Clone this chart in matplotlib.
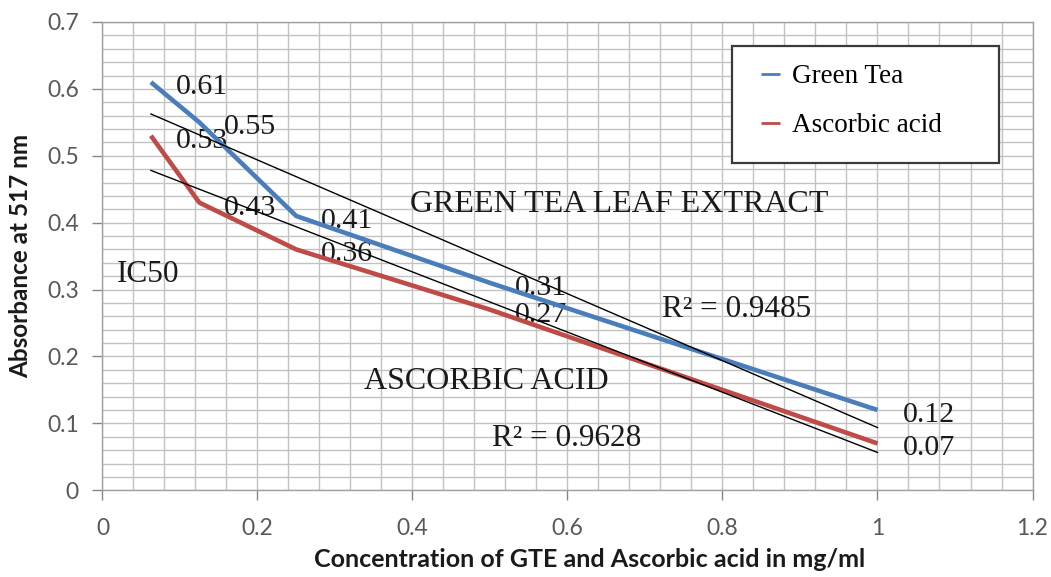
import matplotlib

matplotlib.use("Agg")
import matplotlib.pyplot as plt
import numpy as np
from matplotlib.patches import Rectangle
from matplotlib.ticker import MultipleLocator

# concentrations (mg/ml) and absorbance at 517 nm
conc = [0.0625, 0.125, 0.25, 0.5, 1.0]
green_tea = [0.61, 0.55, 0.41, 0.31, 0.12]
ascorbic = [0.53, 0.43, 0.36, 0.27, 0.07]
series_names = ["Green Tea", "Ascorbic acid"]
r2_green = "R² = 0.9485"
r2_ascorbic = "R² = 0.9628"

C_GT, C_AA = "#4a7ebb", "#be4b48"
SERIF = "Liberation Serif"
SANS = "Lato"
GRID = "#c2c2c2"
TICK = "#595959"

fig = plt.figure(figsize=(10.51, 5.77), dpi=100)
ax = fig.add_axes([0.0975, 0.1503, 0.8849, 0.8116])

ax.set_xlim(0, 1.2)
ax.set_ylim(0, 0.7)
ax.xaxis.set_major_locator(MultipleLocator(0.2))
ax.xaxis.set_minor_locator(MultipleLocator(0.04))
ax.yaxis.set_major_locator(MultipleLocator(0.1))
ax.yaxis.set_minor_locator(MultipleLocator(0.02))
ax.grid(which="both", color=GRID, lw=1.0, zorder=0)
ax.set_axisbelow(True)
ax.set_xticks(ax.get_xticks(), [f"{v:g}" for v in ax.get_xticks()])
ax.set_yticks(ax.get_yticks(), [f"{v:g}" for v in ax.get_yticks()])
ax.set_xlim(0, 1.2)
ax.set_ylim(0, 0.7)
ax.tick_params(which="major", length=7, width=1, color="#868686", labelcolor=TICK,
               labelsize=16.5, pad=10)
ax.tick_params(axis="x", pad=13)
ax.tick_params(which="minor", length=0)
for lab in ax.get_xticklabels() + ax.get_yticklabels():
    lab.set_family(SANS)
for s in ax.spines.values():
    s.set_color("#a0a0a0")
    s.set_linewidth(1.0)

ax.plot(conc, green_tea, color=C_GT, lw=3.3, label=series_names[0], zorder=3,
        solid_capstyle="butt")
ax.plot(conc, ascorbic, color=C_AA, lw=3.3, label=series_names[1], zorder=3,
        solid_capstyle="butt")

# linear trendlines over the data range
xs = np.array([conc[0], conc[-1]])
for y in (green_tea, ascorbic):
    k, b = np.polyfit(conc, y, 1)
    ax.plot(xs, k * xs + b, color="black", lw=1.0, zorder=4)

# data labels, to the right of each point
for y in (green_tea, ascorbic):
    for xv, yv in zip(conc, y):
        ax.annotate(f"{yv:.2f}", (xv, yv), xytext=(25, -2), textcoords="offset pixels",
                    ha="left", va="center_baseline", fontsize=21.5, family=SERIF,
                    color="#1a1a1a", zorder=2)

txt = dict(family=SERIF, color="#1a1a1a", ha="left", va="center_baseline", zorder=2)
ax.text(0.018, 0.328, "IC50", fontsize=22.5, **txt)
ax.text(0.397, 0.432, "GREEN TEA LEAF EXTRACT", fontsize=23, **txt)
ax.text(0.337, 0.168, "ASCORBIC ACID", fontsize=23, **txt)
ax.text(0.7225, 0.276, r2_green, fontsize=22.5, **txt)
ax.text(0.5025, 0.083, r2_ascorbic, fontsize=22.5, **txt)

ax.set_ylabel("Absorbance at 517 nm", family=SANS, fontweight="bold", fontsize=17.5,
              color="#1a1a1a")
ax.yaxis.set_label_coords(-0.076, 0.5)
ax.set_xlabel("Concentration of GTE and Ascorbic acid in mg/ml", family=SANS,
              fontweight="bold", fontsize=18, color="#1a1a1a")
ax.xaxis.set_label_coords(0.524, -0.123)

# legend box
ax.add_patch(Rectangle((0.677, 0.698), 0.287, 0.2508, transform=ax.transAxes,
                       facecolor="white", edgecolor="#3a3a3a", lw=1.6, zorder=5))
leg = ax.legend(loc="upper left", bbox_to_anchor=(0.696, 0.933), frameon=False,
                prop={"family": SERIF, "size": 19.5}, handlelength=0.7,
                handletextpad=0.45, labelspacing=0.88, borderaxespad=0)
leg.set_zorder(6)
for h in leg.get_lines():
    h.set_linewidth(2.0)

fig.savefig("out.png", dpi=100)
